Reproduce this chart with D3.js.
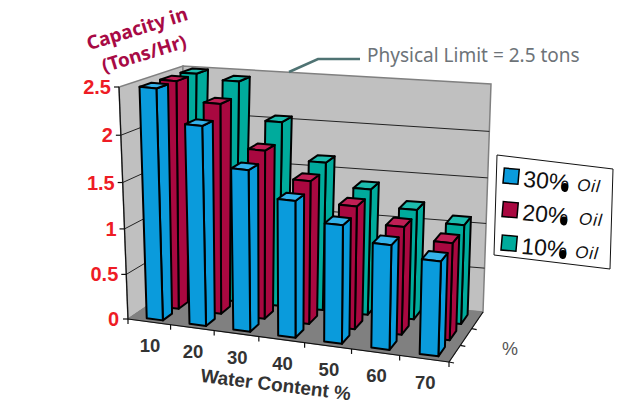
<!DOCTYPE html>
<html>
<head>
<meta charset="utf-8">
<style>
html, body { margin: 0; background: #fff; }
svg { display: block; }
</style>
<script src="https://cdnjs.cloudflare.com/ajax/libs/d3/7.8.5/d3.min.js"></script>
</head>
<body>
<svg id="chart" width="621" height="405"></svg>
<script>
var water_content = ["10", "20", "30", "40", "50", "60", "70"];
var oil_30 = [2.5, 2.16, 1.75, 1.48, 1.28, 1.13, 1.02];
var oil_20 = [2.5, 2.3, 1.85, 1.57, 1.35, 1.18, 1.06];
var oil_10 = [2.5, 2.45, 2.05, 1.65, 1.4, 1.22, 1.1];
var value_ticks = [0, 0.5, 1, 1.5, 2, 2.5];
var series_names = ["10% Oil", "20% Oil", "30% Oil"];
var series_values = [oil_10, oil_20, oil_30];
var series_colors = ["#00ab9c", "#a90840", "#0a9bdc"];
var top_colors = ["#1dbcae", "#c01f55", "#35b2ea"];

// corners of the 3d box on the screen: [front/back][left/right][bottom/top]
var corners = {
  flb: [128, 319], frb: [449, 362], blb: [178, 285], brb: [483, 312],
  flt: [119, 87], frt: [456, 121], blt: [183, 66], brt: [491, 84]
};
var perspective = 1.09;
var perspective_v = 1.05;

var svg = d3.select("#chart");

var x_scale = d3.scaleBand().domain(water_content).range([0.006, 1.006]).paddingInner(0.62).paddingOuter(0.31);
var depth_scale = d3.scaleBand().domain(["30% Oil", "20% Oil", "10% Oil"]).range([0, 1]).paddingInner(0.42).paddingOuter(0.24);
var value_scale = d3.scaleLinear().domain([0, 2.5]).range([0, 1]);

function project(u, d, h)
{
  // wider towards the right side, the box turns towards the viewer there
  let f = u / (u + perspective * (1 - u));
  let g = h / (h + perspective_v * (1 - h));
  let out = [];
  for (let i = 0; i < 2; i++)
  {
    let bottom = (1 - d) * ((1 - f) * corners.flb[i] + f * corners.frb[i]) + d * ((1 - f) * corners.blb[i] + f * corners.brb[i]);
    let top = (1 - d) * ((1 - f) * corners.flt[i] + f * corners.frt[i]) + d * ((1 - f) * corners.blt[i] + f * corners.brt[i]);
    out.push(bottom + (top - bottom) * g);
  }
  return out;
}

function poly(points)
{
  return points.join(" ");
}

// walls and floor
svg.append("polygon")
  .attr("points", poly([project(0, 0, 0), project(0, 1, 0), project(0, 1, 1), project(0, 0, 1)]))
  .attr("fill", "#c0c0c0").attr("stroke", "#808080").attr("stroke-width", 1.5);
svg.append("polygon")
  .attr("points", poly([project(0, 1, 0), project(1, 1, 0), project(1, 1, 1), project(0, 1, 1)]))
  .attr("fill", "#c0c0c0").attr("stroke", "#808080").attr("stroke-width", 1.5);
svg.append("polygon")
  .attr("points", poly([project(0, 0, 0), project(1, 0, 0), project(1, 1, 0), project(0, 1, 0)]))
  .attr("fill", "#808080").attr("stroke", "#808080");

// gridlines
value_ticks.slice(1, -1).forEach(function (v)
{
  let h = value_scale(v);
  svg.append("polyline")
    .attr("points", poly([project(0, 0, h), project(0, 1, h), project(1, 1, h)]))
    .attr("fill", "none").attr("stroke", "#222").attr("stroke-width", 1);
});

// axes
function line(a, b, width)
{
  svg.append("line")
    .attr("x1", a[0]).attr("y1", a[1]).attr("x2", b[0]).attr("y2", b[1])
    .attr("stroke", "#111").attr("stroke-width", width);
}
line(project(0, 0, 0), project(0, 0, 1), 1.2);
line(project(0, 0, 0), project(1, 0, 0), 1.2);
line(project(1, 0, 0), project(1, 1, 0), 1.2);

value_ticks.forEach(function (v)
{
  let p = project(0, 0, value_scale(v));
  line([p[0] - 5, p[1]], p, 1.2);
  svg.append("text")
    .attr("x", p[0] - 8 - (v === 0 ? 1 : 0)).attr("y", p[1] + 7)
    .attr("text-anchor", "end")
    .attr("font-family", "Liberation Sans").attr("font-weight", "bold").attr("font-size", 20)
    .attr("fill", "#ee1c25")
    .text(v);
});

d3.range(water_content.length + 1).forEach(function (i)
{
  let p = project(i / water_content.length, 0, 0);
  line(p, [p[0], p[1] + 5], 1.2);
});
[1 / 3, 2 / 3].forEach(function (d)
{
  let p = project(1, d, 0);
  line(p, [p[0] + 5, p[1] + 1], 1.2);
});
line(project(1, 0, 0), [454, 363], 1.2);

water_content.forEach(function (c)
{
  let p = project(x_scale(c) + x_scale.bandwidth() / 2, 0, 0);
  svg.append("text")
    .attr("x", p[0] - 1).attr("y", p[1] + 30)
    .attr("text-anchor", "middle")
    .attr("font-family", "Liberation Sans").attr("font-weight", "bold").attr("font-size", 18.5)
    .attr("fill", "#333")
    .text(c);
});

// bars, back row first
series_names.forEach(function (name, s)
{
  let d0 = depth_scale(name);
  let d1 = d0 + depth_scale.bandwidth();
  water_content.forEach(function (c, i)
  {
    let u0 = x_scale(c);
    let u1 = u0 + x_scale.bandwidth();
    let h = value_scale(series_values[s][i]);
    let group = svg.append("g")
      .attr("stroke", "#000").attr("stroke-width", 2).attr("stroke-linejoin", "round");
    group.append("polygon")
      .attr("points", poly([project(u1, d0, 0), project(u1, d1, 0), project(u1, d1, h), project(u1, d0, h)]))
      .attr("fill", series_colors[s]);
    group.append("polygon")
      .attr("points", poly([project(u0, d0, h), project(u1, d0, h), project(u1, d1, h), project(u0, d1, h)]))
      .attr("fill", top_colors[s]);
    group.append("polygon")
      .attr("points", poly([project(u0, d0, 0), project(u1, d0, 0), project(u1, d0, h), project(u0, d0, h)]))
      .attr("fill", series_colors[s]);
  });
});

// titles
svg.append("text")
  .attr("transform", "translate(139,35) rotate(-17)")
  .attr("text-anchor", "middle")
  .attr("font-family", "Noto Sans").attr("font-weight", "bold").attr("font-size", 19)
  .attr("fill", "#a80a45")
  .text("Capacity in");
svg.append("text")
  .attr("transform", "translate(146,60) rotate(-17)")
  .attr("text-anchor", "middle")
  .attr("font-family", "Noto Sans").attr("font-weight", "bold").attr("font-size", 19)
  .attr("fill", "#a80a45")
  .text("(Tons/Hr)");

svg.append("text")
  .attr("transform", "translate(275,391) rotate(7)")
  .attr("text-anchor", "middle")
  .attr("font-family", "Liberation Sans").attr("font-weight", "bold").attr("font-size", 19)
  .attr("fill", "#333")
  .text("Water Content %");

svg.append("text")
  .attr("x", 510).attr("y", 355)
  .attr("text-anchor", "middle")
  .attr("font-family", "Liberation Sans").attr("font-size", 18)
  .attr("fill", "#555")
  .text("%");

// physical limit note
svg.append("polyline")
  .attr("points", "289,72 318,59 360,59")
  .attr("fill", "none").attr("stroke", "#4f7373").attr("stroke-width", 2.5);
svg.append("text")
  .attr("x", 367).attr("y", 62)
  .attr("font-family", "Noto Sans").attr("font-size", 19)
  .attr("fill", "#6d7378")
  .text("Physical Limit = 2.5 tons");

// legend
svg.append("polygon")
  .attr("points", "497,155 613,169 610,269 494,255")
  .attr("fill", "#fff").attr("stroke", "#111").attr("stroke-width", 1);

var legend_labels = ["30%", "20%", "10%"];
var legend_words = ["Oil", "Oil", "Oil"];
var legend_colors = [series_colors[2], series_colors[1], series_colors[0]];
legend_labels.forEach(function (label, i)
{
  let g = svg.append("g")
    .attr("transform", "translate(" + (503 - i) + "," + (183 + i * 33.5) + ") rotate(5)");
  g.append("rect")
    .attr("x", 0).attr("y", -15).attr("width", 15).attr("height", 15)
    .attr("fill", legend_colors[i]).attr("stroke", "#000").attr("stroke-width", 1.5);
  g.append("text")
    .attr("x", 20).attr("y", 2)
    .attr("font-family", "Liberation Sans").attr("font-size", 23)
    .attr("fill", "#111")
    .text(label);
  g.append("ellipse")
    .attr("cx", 62).attr("cy", -1).attr("rx", 3.5).attr("ry", 4.5)
    .attr("fill", "#000");
  g.append("text")
    .attr("x", 74 + (i === 1 ? 3 : 0)).attr("y", 1)
    .attr("font-family", "Liberation Sans").attr("font-style", "italic").attr("font-size", 17)
    .attr("letter-spacing", 1)
    .attr("fill", "#111")
    .text(legend_words[i]);
});
</script>
</body>
</html>
